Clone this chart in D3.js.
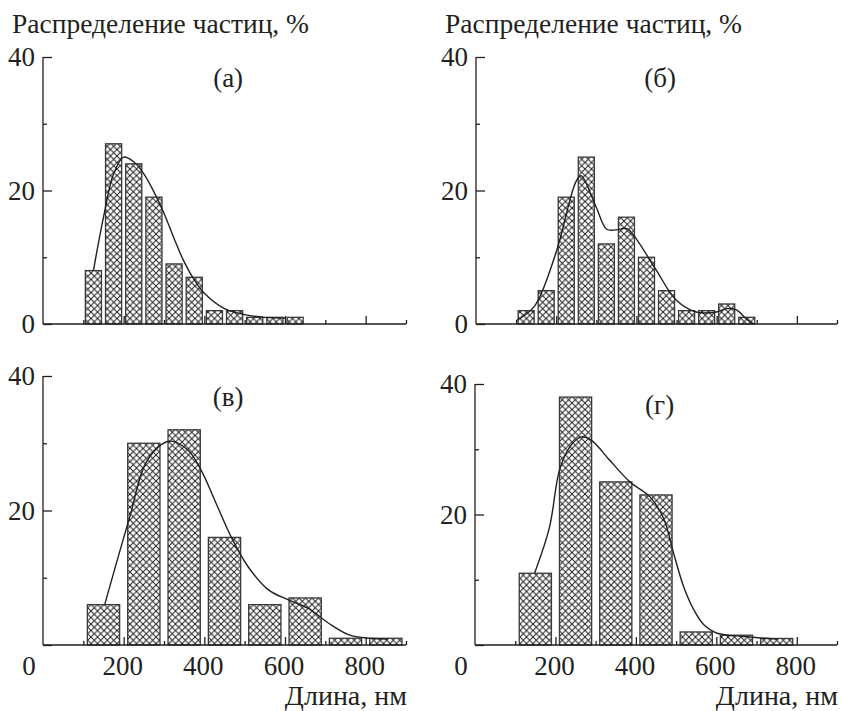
<!DOCTYPE html>
<html>
<head>
<meta charset="utf-8">
<script src="https://cdn.jsdelivr.net/npm/d3@7"></script>
<style>
  body { margin: 0; background: #fff; }
  svg { display: block; }
</style>
</head>
<body>
<div id="chart"></div>
<script>
// histogram data (bin start in nm, percent)
const binsA = [100, 150, 200, 250, 300, 350, 400, 450, 500, 550, 600]
const valsA = [8, 27, 24, 19, 9, 7, 2, 2, 1, 1, 1]
const fitAx = [125, 150, 175, 200, 225, 250, 275, 300, 325, 350, 375, 400, 450, 500, 550, 600]
const fitAy = [8, 16, 22.5, 25, 24.3, 22.5, 19.8, 16.6, 12.8, 9.3, 6.6, 4.6, 2.3, 1.4, 1.0, 0.9]

const binsB = [100, 150, 200, 250, 300, 350, 400, 450, 500, 550, 600, 650]
const valsB = [2, 5, 19, 25, 12, 16, 10, 5, 2, 2, 3, 1]
const fitBx = [102, 145, 199, 249, 262, 299, 326, 349, 376, 399, 449, 499, 549, 599, 626, 649, 677, 693]
const fitBy = [0.6, 2.6, 10.6, 21.3, 22.2, 17.6, 14.2, 14.1, 14.3, 12.8, 8.1, 3.6, 1.8, 1.8, 2.3, 2.1, 0.6, 0]

const binsV = [100, 200, 300, 400, 500, 600, 700, 800]
const valsV = [6, 30, 32, 16, 6, 7, 1, 1]
const fitVx = [153, 213, 259, 313, 359, 392, 426, 467, 509, 559, 609, 659, 709, 759, 809, 855]
const fitVy = [6, 18.6, 27.5, 30.3, 29, 26, 21.5, 16, 11.6, 8.2, 6.7, 5.4, 3.2, 1.5, 1, 0.9]

const binsG = [100, 200, 300, 400, 500, 600, 700]
const valsG = [11, 38, 25, 23, 2, 1.5, 1]
const fitGx = [148, 185, 210, 235, 264, 289, 335, 385, 435, 469, 494, 519, 544, 569, 602, 669, 752]
const fitGy = [11, 18, 26.8, 30.3, 31.9, 31.4, 28.3, 25, 22.7, 19.4, 14, 8.9, 5.4, 3.1, 1.8, 1.3, 0.9]

const yTicks = [0, 20, 40]
const xTickLabels = [0, 200, 400, 600, 800]
const yTitle = "Распределение частиц, %"
const xTitle = "Длина, нм"

const W = 842, H = 711
const FONT = "Liberation Serif"
const INK = "#231f20"

const svg = d3.select("#chart").append("svg")
  .attr("width", W)
  .attr("height", H)
  .style("font-family", FONT)

// cross hatch fill
svg.append("defs").append("pattern")
    .attr("id", "hatch")
    .attr("patternUnits", "userSpaceOnUse")
    .attr("width", 6.5)
    .attr("height", 6.5)
  .append("path")
    .attr("d", "M0,0L6.5,6.5M6.5,0L0,6.5")
    .attr("stroke", INK)
    .attr("stroke-width", 1)
    .attr("fill", "none")

const panels = [
  { label: "(а)", bins: binsA, vals: valsA, fx: fitAx, fy: fitAy, step: 50,
    x0: 43, x1: 406, y0: 324, y1: 57, title: true, bottom: false },
  { label: "(б)", bins: binsB, vals: valsB, fx: fitBx, fy: fitBy, step: 50,
    x0: 476, x1: 837, y0: 324, y1: 57, title: true, bottom: false },
  { label: "(в)", bins: binsV, vals: valsV, fx: fitVx, fy: fitVy, step: 100,
    x0: 43, x1: 406, y0: 645, y1: 376, title: false, bottom: true },
  { label: "(г)", bins: binsG, vals: valsG, fx: fitGx, fy: fitGy, step: 100,
    x0: 475, x1: 837, y0: 645, y1: 384, title: false, bottom: true }
]

function addText(g, size) {
  return g.append("text")
    .style("font-family", FONT)
    .style("font-size", size + "px")
    .style("fill", INK)
}

panels.forEach(p => {
  const x = d3.scaleLinear().domain([0, 900]).range([p.x0, p.x1])
  const y = d3.scaleLinear().domain([0, 40]).range([p.y0, p.y1])
  const g = svg.append("g")

  // bars
  const bw = (x(p.step) - x(0)) * 0.8
  g.selectAll("rect")
    .data(p.bins)
    .enter()
    .append("rect")
      .attr("x", (d, i) => x(d + p.step / 2) - bw / 2)
      .attr("y", (d, i) => y(p.vals[i]))
      .attr("width", bw)
      .attr("height", (d, i) => y(0) - y(p.vals[i]))
      .attr("fill", "url(#hatch)")
      .attr("stroke", "#3a3a3a")
      .attr("stroke-width", 1.3)

  // fitted curve
  const line = d3.line()
    .x(d => x(d[0]))
    .y(d => y(d[1]))
    .curve(d3.curveCatmullRom.alpha(0.5))
  g.append("path")
    .attr("d", line(p.fx.map((v, i) => [v, p.fy[i]])))
    .attr("fill", "none")
    .attr("stroke", INK)
    .attr("stroke-width", 1.4)

  // x axis, ticks pointing up
  const xAxis = g.append("g")
    .attr("transform", `translate(0,${p.y0})`)
    .call(d3.axisTop(x).tickValues([200, 400, 600, 800]).tickSize(8).tickFormat(""))
  g.append("g")
    .attr("transform", `translate(0,${p.y0})`)
    .call(d3.axisTop(x).tickValues([100, 300, 500, 700, 900]).tickSize(4).tickFormat(""))
    .select(".domain").remove()
  xAxis.select(".domain").attr("d", `M${p.x0},0H${p.x1}`)

  // y axis, ticks pointing right
  const yAxis = g.append("g")
    .attr("transform", `translate(${p.x0},0)`)
    .call(d3.axisRight(y).tickValues(yTicks).tickSize(9).tickFormat(""))
  yAxis.select(".domain").attr("d", `M0,${p.y0}V${p.y1}`)
  g.append("g")
    .attr("transform", `translate(${p.x0},0)`)
    .call(d3.axisRight(y).tickValues([10, 30]).tickSize(4).tickFormat(""))
    .select(".domain").remove()

  g.selectAll(".domain, .tick line")
    .attr("stroke", INK)
    .attr("stroke-width", 1.3)

  // y tick labels
  const yl = p.bottom ? yTicks.filter(d => d > 0) : yTicks
  yl.forEach(d => {
    addText(g, 27)
      .attr("x", p.x0 - 8)
      .attr("y", y(d) + 9)
      .attr("text-anchor", "end")
      .text(d)
  })

  if (p.bottom) {
    xTickLabels.forEach(d => {
      addText(g, 27)
        .attr("x", x(d) + (d === 0 ? -14 : -1))
        .attr("y", p.y0 + 30)
        .attr("text-anchor", "middle")
        .text(d)
    })
    addText(g, 28)
      .attr("x", p.x1 + 1)
      .attr("y", p.y0 + 60)
      .attr("text-anchor", "end")
      .text(xTitle)
  }

  if (p.title) {
    addText(g, 27.5)
      .attr("x", p.x0 - 31)
      .attr("y", 33)
      .text(yTitle)
  }

  addText(g, 27)
    .attr("x", p.x0 + (p.x1 - p.x0) * 0.51)
    .attr("y", p.y1 + 30)
    .attr("text-anchor", "middle")
    .text(p.label)
})
</script>
</body>
</html>
